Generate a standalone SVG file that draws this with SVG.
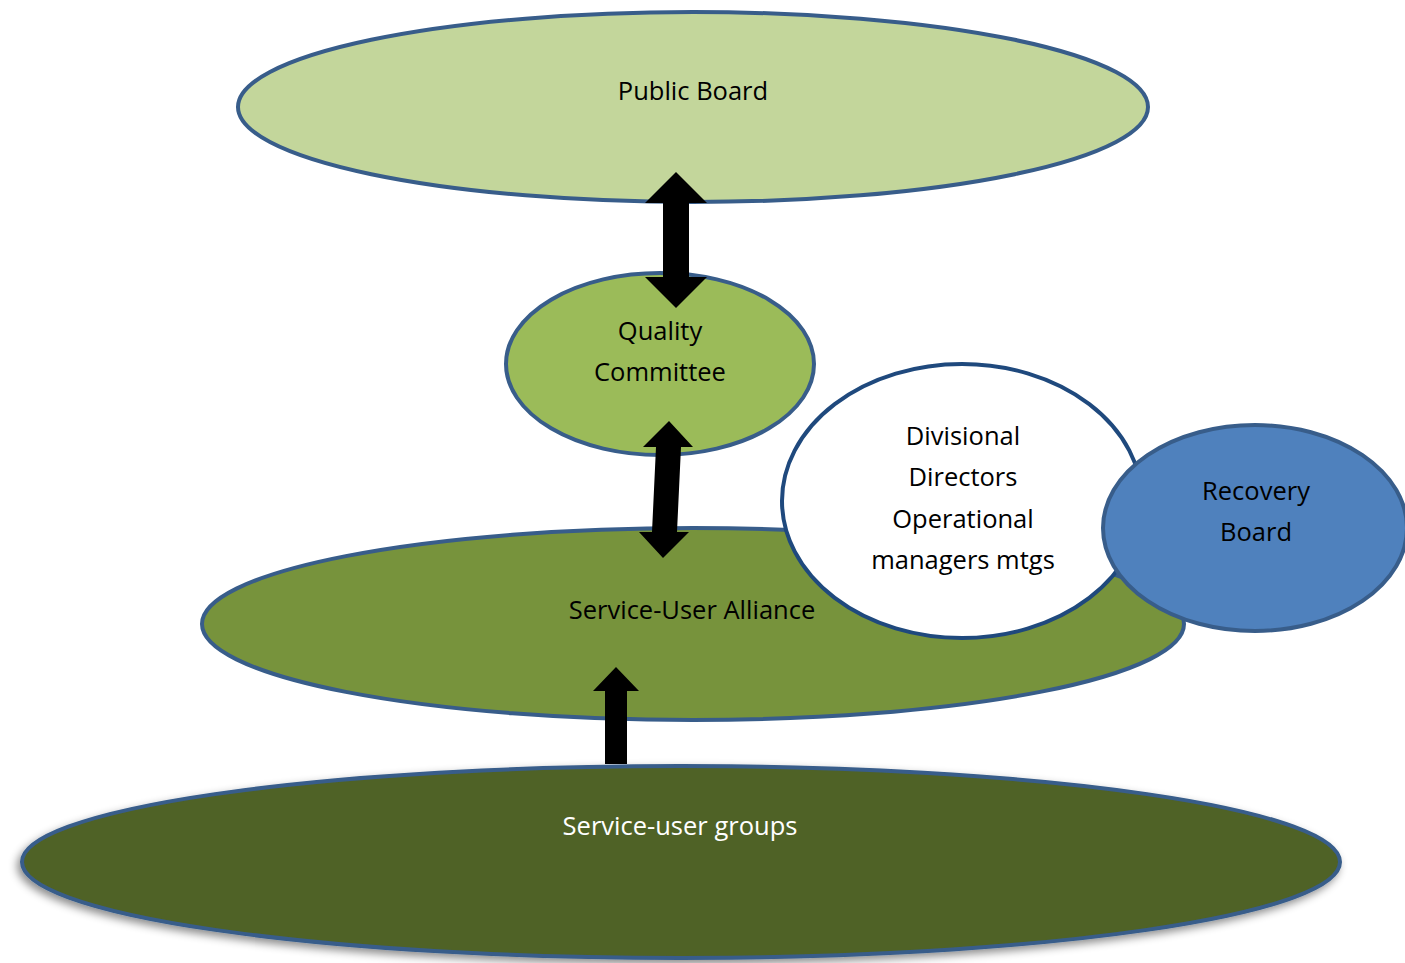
<svg xmlns="http://www.w3.org/2000/svg" width="1405" height="963" viewBox="0 0 1405 963">
<style>
.n{stroke:#385d8a;stroke-width:4}
.t{font-family:"Open Sans","Liberation Sans",sans-serif;font-size:25.5px;text-anchor:middle;fill:#000}
.arr{fill:#000}
</style>
<defs>
<filter id="sh" x="-5%" y="-20%" width="110%" height="150%">
<feDropShadow dx="-3" dy="4" stdDeviation="4" flood-color="#000" flood-opacity="0.45"/>
</filter>
</defs>
<rect width="1405" height="963" fill="#fff"/>
<g id="public-board">
<ellipse class="n" cx="693" cy="107" rx="455" ry="95" fill="#c3d69b"/>
<text class="t" x="693" y="100">Public Board</text>
</g>
<g id="quality-committee">
<ellipse class="n" cx="660" cy="364" rx="154" ry="91" fill="#9bbb59"/>
<text class="t" x="660" y="340">Quality</text>
<text class="t" x="660" y="381">Committee</text>
</g>
<g id="service-user-alliance">
<ellipse class="n" cx="693" cy="624" rx="491" ry="96" fill="#77933c"/>
<text class="t" x="692" y="619">Service-User Alliance</text>
</g>
<g id="divisional">
<ellipse cx="962" cy="501" rx="180" ry="137" fill="#fff" stroke="#1f497d" stroke-width="4"/>
<text class="t" x="963" y="445">Divisional</text>
<text class="t" x="963" y="486">Directors</text>
<text class="t" x="963" y="528">Operational</text>
<text class="t" x="963" y="569">managers mtgs</text>
</g>
<g id="recovery-board">
<ellipse class="n" cx="1255" cy="528" rx="152" ry="103" fill="#4f81bd"/>
<text class="t" x="1256" y="500">Recovery</text>
<text class="t" x="1256" y="541">Board</text>
</g>
<g id="service-user-groups">
<ellipse class="n" cx="681" cy="862" rx="659" ry="96" fill="#4f6228" filter="url(#sh)"/>
<text class="t" x="680" y="835" style="fill:#fff">Service-user groups</text>
</g>
<g id="connectors">
<polygon class="arr" points="676,172 707,203 689,203 689,277 707,277 676,308 645,277 663,277 663,203 645,203"/>
<polygon class="arr" points="669,421 693,447 681,447 677,532 689,532 663,558 639,532 652,532 656,447 643,447"/>
<polygon class="arr" points="616,667 639,691 627,691 627,764 605,764 605,691 593,691"/>
</g>
</svg>
